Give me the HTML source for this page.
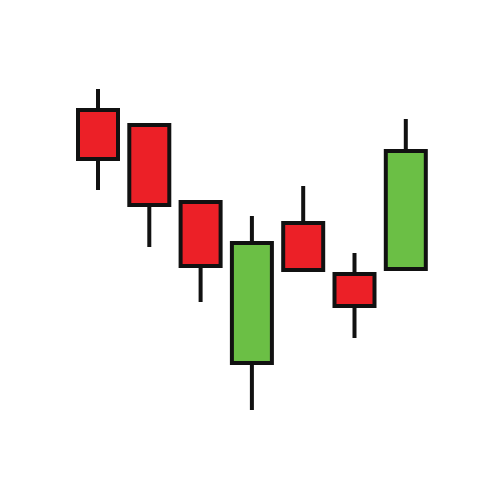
<!DOCTYPE html>
<html><head><meta charset="utf-8"><style>
html,body{margin:0;padding:0;background:#fff;}
svg{display:block;}
</style></head><body>
<svg id="chart" width="500" height="500" viewBox="0 0 500 500" xmlns="http://www.w3.org/2000/svg">
<rect width="500" height="500" fill="#fff"/>
<g id="candles"></g>
</svg>
<script>
const categories = ["c1","c2","c3","c4","c5","c6","c7"];
const openVals  = [392, 377, 300, 135, 279, 228, 229];
const closeVals = [339, 293, 232, 259, 228, 192, 351];
const highVals  = [411, 377, 300, 284, 314, 247, 381];
const lowVals   = [310, 253, 198,  90, 228, 162, 229];

const ns = "http://www.w3.org/2000/svg";
function xScale(i){ return 76 + i * 51.3; }
function yScale(v){ return 500 - v; }
const candleW = 44, sw = 4;
const g = document.getElementById("candles");
categories.forEach((c, i) => {
  const x0 = xScale(i), cx = x0 + candleW / 2;
  const up = closeVals[i] > openVals[i];
  const topV = Math.max(openVals[i], closeVals[i]), botV = Math.min(openVals[i], closeVals[i]);
  const wick = document.createElementNS(ns, "line");
  
  
  wick.setAttribute("x1", cx); wick.setAttribute("x2", cx);
  wick.setAttribute("y1", yScale(highVals[i])); wick.setAttribute("y2", yScale(lowVals[i]));
  wick.setAttribute("stroke", "#111"); wick.setAttribute("stroke-width", sw);
  g.appendChild(wick);
  const body = document.createElementNS(ns, "rect");
  
  
  body.setAttribute("x", x0 + sw / 2); body.setAttribute("width", candleW - sw);
  body.setAttribute("y", yScale(topV) + sw / 2);
  body.setAttribute("height", Math.max(0, yScale(botV) - yScale(topV) - sw));
  body.setAttribute("fill", up ? "#6bbf45" : "#ec2027");
  body.setAttribute("stroke", "#111"); body.setAttribute("stroke-width", sw);
  g.appendChild(body);
});
</script>
</body></html>
